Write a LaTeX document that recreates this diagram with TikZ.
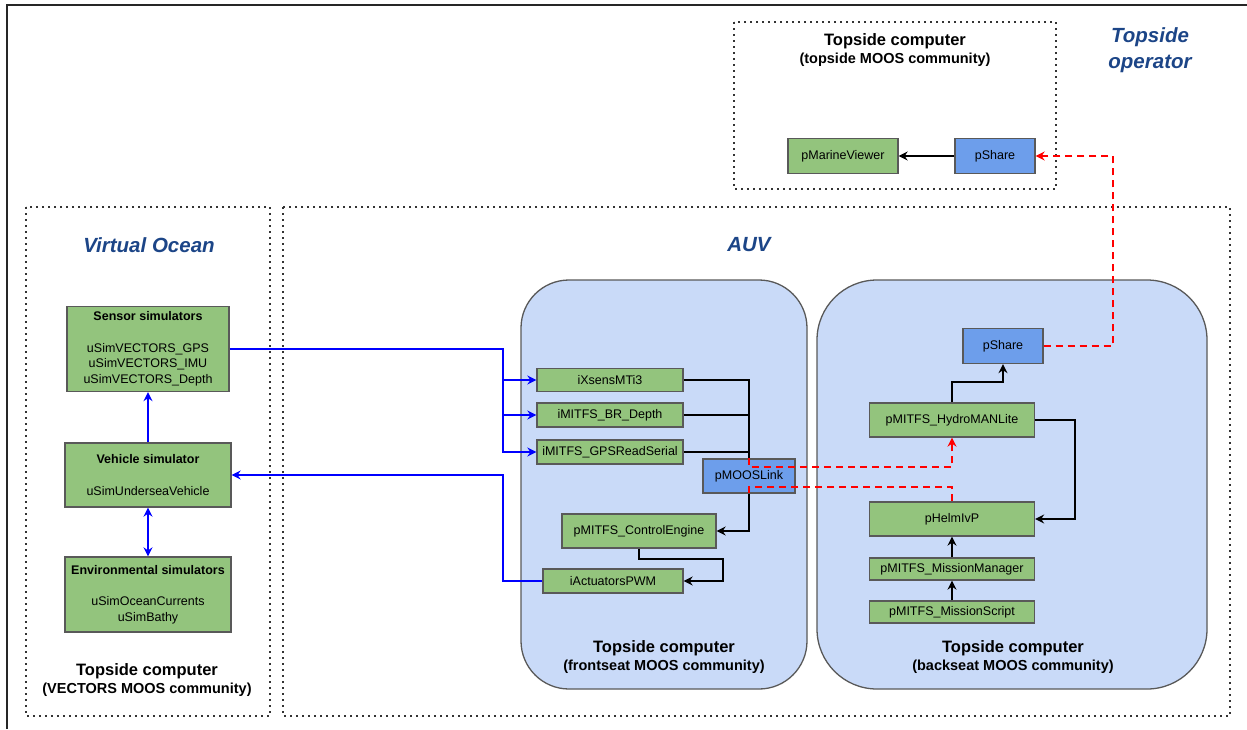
\documentclass[tikz,border=0pt]{standalone}
\usepackage{fontspec}
\setmainfont{Liberation Sans}
\usepackage{tikz}
\usetikzlibrary{calc,arrows.meta}
\definecolor{procgreen}{HTML}{93C47D}
\definecolor{procblue}{HTML}{6D9EEB}
\definecolor{hostblue}{HTML}{C9DAF8}
\definecolor{titleblue}{HTML}{1C4587}
\definecolor{edgegray}{HTML}{595959}
\newcommand{\hostlabel}[4]{
	\node[hosttitle] (#1) at (#2) {#3};
	\node[hostsub] (#1sub) at ($(#2)+(0,19)$) {#4};
}

\begin{document}
\begin{tikzpicture}[x=1pt,y=-1pt,
	proc/.style={draw=edgegray, line width=1.3pt, fill=procgreen, inner sep=0pt, align=center, font=\fontsize{12.5}{15.7}\selectfont},
	shr/.style={proc, fill=procblue},
	host/.style={draw=edgegray, line width=1.3pt, fill=hostblue},
	zone/.style={draw=black!80, line width=1.6pt, dash pattern=on 1.6pt off 4.4pt},
	zonetitle/.style={text=titleblue, align=center, font=\bfseries\itshape\fontsize{20.5}{26}\selectfont},
	hosttitle/.style={font=\bfseries\fontsize{16.5}{18}\selectfont},
	hostsub/.style={font=\bfseries\fontsize{14.5}{16}\selectfont},
	tip/.style={-{Stealth[length=9pt,width=9pt,inset=3pt]}},
	sim/.style={blue, line width=2pt},
	ctl/.style={black, line width=2pt},
	link/.style={red, line width=1.8pt, dash pattern=on 7pt off 5pt}]
	\useasboundingbox (0,0) rectangle (1247,729);
	\draw[line width=1.8pt, black!85] (7,729) -- (7,5) -- (1247,5);

	% zones
	\draw[zone] (734,22) rectangle (1056,189);
	\draw[zone] (26,207) rectangle (270,716);
	\draw[zone] (283,207) rectangle (1230,716);
	\draw[host, rounded corners=48pt] (521,280) rectangle (807,689);
	\draw[host, rounded corners=60pt] (817,280) rectangle (1207,689);

	\node[zonetitle] (topop) at (1150,50) {Topside\\operator};
	\node[zonetitle] (ocean) at (149,245) {Virtual Ocean};
	\node[zonetitle] (auv) at (749,245) {AUV};

	\hostlabel{tophost}{895,41}{Topside computer}{(topside MOOS community)}
	\hostlabel{vechost}{147,671}{Topside computer}{(VECTORS MOOS community)}
	\hostlabel{fronthost}{664,648}{Topside computer}{(frontseat MOOS community)}
	\hostlabel{backhost}{1013,648}{Topside computer}{(backseat MOOS community)}

	% topside
	\node[proc, minimum width=110, minimum height=35] (viewer) at (843,156) {pMarineViewer};
	\node[shr, minimum width=80, minimum height=35] (sharetop) at (995,156) {pShare};

	% virtual ocean
	\node[proc, minimum width=162, minimum height=85] (sensor) at (148,349) {\textbf{Sensor simulators}\\[15.7pt]uSimVECTORS\_GPS\\uSimVECTORS\_IMU\\uSimVECTORS\_Depth};
	\node[proc, minimum width=166, minimum height=64] (vehicle) at (148,475) {\textbf{Vehicle simulator}\\[15.7pt]uSimUnderseaVehicle};
	\node[proc, minimum width=166, minimum height=75] (env) at (148,594.5) {\textbf{Environmental simulators}\\[15.7pt]uSimOceanCurrents\\uSimBathy};

	% frontseat
	\node[proc, minimum width=146, minimum height=23] (xsens) at (610,380) {iXsensMTi3};
	\node[proc, minimum width=146, minimum height=24] (depth) at (610,415) {iMITFS\_BR\_Depth};
	\node[proc, minimum width=146, minimum height=24] (gps) at (610,452) {iMITFS\_GPSReadSerial};
	\node[shr, minimum width=92, minimum height=34] (mooslink) at (749,476) {pMOOSLink};
	\node[proc, minimum width=154, minimum height=34] (control) at (639,531) {pMITFS\_ControlEngine};
	\node[proc, minimum width=140, minimum height=24] (pwm) at (613,581) {iActuatorsPWM};

	% backseat
	\node[shr, minimum width=80, minimum height=35] (shareback) at (1003,346) {pShare};
	\node[proc, minimum width=165, minimum height=34] (hydro) at (952,420) {pMITFS\_HydroMANLite};
	\node[proc, minimum width=165, minimum height=34] (helm) at (952,519) {pHelmIvP};
	\node[proc, minimum width=165, minimum height=22] (manager) at (952,569) {pMITFS\_MissionManager};
	\node[proc, minimum width=165, minimum height=22] (script) at (952,612) {pMITFS\_MissionScript};

	\coordinate (fork) at (503,300);
	\coordinate (loopr) at (723,559);
	\coordinate (riser) at (1113,250);

	% simulator links
	\draw[sim, tip] (sensor.east) -| (fork |- xsens.west) -- (xsens.west);
	\draw[sim, tip] (fork |- xsens.west) |- (depth.west);
	\draw[sim, tip] (fork |- depth.west) |- (gps.west);
	\draw[sim, tip] (pwm.west) -| (fork |- vehicle.east) -- (vehicle.east);
	\draw[sim, tip] (vehicle.north) -- (sensor.south);
	\draw[sim, {Stealth[length=9pt,width=9pt,inset=3pt]}-{Stealth[length=9pt,width=9pt,inset=3pt]}] (vehicle.south) -- (env.north);

	% MOOS links
	\draw[ctl, tip] (sharetop.west) -- (viewer.east);
	\draw[ctl] (xsens.east) -| (mooslink.north);
	\draw[ctl] (depth.east) -- (depth.east -| mooslink.north);
	\draw[ctl] (gps.east) -- (gps.east -| mooslink.north);
	\draw[ctl, tip] (mooslink.south) |- (control.east);
	\draw[ctl, tip] (control.south) |- (loopr) |- (pwm.east);
	\draw[ctl, tip] (hydro.north) -- ++(0,-20) -| (shareback.south);
	\draw[ctl, tip] (hydro.east) -- ++(40,0) |- (helm.east);
	\draw[ctl, tip] (manager.north) -- (helm.south);
	\draw[ctl, tip] (script.north) -- (manager.south);

	% acoustic / network links
	\draw[link, tip] (shareback.east) -| (riser) |- (sharetop.east);
	\draw[link, tip] (mooslink.north) -- ++(0,9) -| (hydro.south);
	\draw[link] (helm.north) -- ++(0,-14) -| (mooslink.south);
\end{tikzpicture}
\end{document}
